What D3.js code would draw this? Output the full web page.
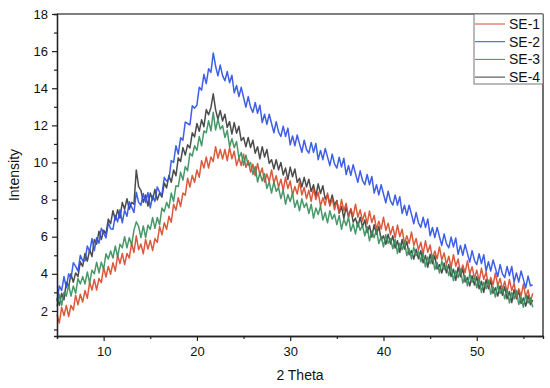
<!DOCTYPE html>
<html>
<head>
<meta charset="utf-8">
<script src="https://cdn.jsdelivr.net/npm/d3@7"></script>
<style>
  body { margin: 0; background: #fff; }
  text { font-family: Arial, "Liberation Sans", sans-serif; }
</style>
</head>
<body>
<script>
const WIDTH = 550
const HEIGHT = 388
const LEFT = 57
const RIGHT = 543
const TOP = 14
const BOTTOM = 336

// 2 Theta grid: 5 to 56, step 0.25
const X_START = 5
const X_STEP = 0.25

const SERIES = ['SE-1', 'SE-2', 'SE-3', 'SE-4']
const COLORS = ['#d94b2c', '#2f52e4', '#3a8f5c', '#3d3d3d']
// drawing order, bottom to top
const DRAW_ORDER = [3, 0, 2, 1]

const SE1 = [
  1.8, 1.35, 2.2, 1.75, 2.3, 1.7, 2.3, 2.05, 2.85, 2.33, 2.9, 2.48,
  3.1, 2.68, 3.55, 3.13, 3.7, 3.13, 3.75, 3.53, 4.35, 3.83, 4.4, 3.98,
  4.6, 4.15, 5.0, 4.55, 5.1, 4.5, 5.1, 4.85, 5.65, 5.15, 6.05, 5.3,
  5.6, 5.08, 5.85, 5.33, 5.8, 5.25, 5.9, 5.7, 6.55, 6.1, 6.75, 6.4,
  7.1, 6.78, 7.75, 7.43, 8.1, 7.63, 8.35, 8.23, 9.15, 8.68, 9.3, 8.93,
  9.6, 9.2, 10.1, 9.7, 10.3, 9.7, 10.3, 10.05, 10.85, 10.23, 10.7, 10.18,
  10.7, 10.1, 10.8, 10.2, 10.6, 9.83, 10.25, 9.83, 10.45, 9.73, 10.1, 9.48,
  9.9, 9.28, 9.95, 9.33, 9.7, 8.94, 9.38, 8.96, 9.6, 8.89, 9.28, 8.66,
  9.1, 8.5, 9.2, 8.6, 9.0, 8.25, 8.7, 8.3, 8.95, 8.25, 8.65, 8.05,
  8.5, 7.9, 8.6, 8.0, 8.4, 7.65, 8.1, 7.7, 8.35, 7.65, 8.05, 7.45,
  7.9, 7.3, 8.0, 7.4, 7.8, 7.05, 7.5, 7.1, 7.75, 7.05, 7.45, 6.85,
  7.3, 6.69, 7.38, 6.76, 7.15, 6.39, 6.83, 6.41, 7.05, 6.34, 6.73, 6.11,
  6.55, 5.94, 6.63, 6.01, 6.4, 5.63, 6.05, 5.63, 6.25, 5.53, 5.9, 5.28,
  5.7, 5.09, 5.78, 5.16, 5.55, 4.79, 5.23, 4.81, 5.45, 4.74, 5.13, 4.51,
  4.95, 4.34, 5.03, 4.41, 4.8, 4.04, 4.48, 4.06, 4.7, 3.99, 4.38, 3.76,
  4.2, 3.6, 4.3, 3.7, 4.1, 3.35, 3.8, 3.4, 4.05, 3.35, 3.75, 3.15,
  3.6, 3.0, 3.7, 3.1, 3.5, 2.75, 3.2, 2.8, 3.45, 2.74, 3.13, 2.51,
  2.95
]

const SE2 = [
  2.5, 3.35, 3.1, 3.85, 3.25, 4.0, 3.75, 4.6, 4.4, 4.15, 5.0, 4.7,
  4.7, 5.5, 5.2, 5.9, 5.25, 5.95, 5.65, 6.45, 6.2, 5.93, 6.75, 6.43,
  6.4, 7.15, 6.8, 7.45, 6.75, 7.43, 7.1, 7.88, 7.6, 7.3, 8.4, 7.85,
  7.7, 8.33, 7.85, 8.38, 7.55, 8.2, 7.9, 8.68, 8.4, 8.25, 9.2, 9.0,
  9.1, 10.1, 10.0, 10.9, 10.45, 11.33, 11.2, 12.18, 12.1, 12.03, 13.05, 12.93,
  13.1, 14.05, 13.9, 14.75, 14.25, 15.05, 14.85, 15.9, 15.2, 14.67, 15.25, 14.68,
  14.4, 14.9, 14.3, 14.7, 13.75, 14.15, 13.55, 14.05, 13.5, 12.98, 13.55, 12.98,
  12.7, 13.23, 12.65, 13.08, 12.15, 12.6, 12.05, 12.6, 12.1, 11.6, 12.2, 11.65,
  11.4, 11.95, 11.4, 11.85, 10.95, 11.43, 10.9, 11.48, 11.0, 10.55, 11.2, 10.7,
  10.5, 11.08, 10.55, 11.03, 10.15, 10.65, 10.15, 10.75, 10.3, 9.83, 10.45, 9.93,
  9.7, 10.28, 9.75, 10.23, 9.35, 9.83, 9.3, 9.88, 9.4, 8.93, 9.55, 9.03,
  8.8, 9.35, 8.8, 9.25, 8.35, 8.8, 8.25, 8.8, 8.3, 7.83, 8.45, 7.93,
  7.7, 8.25, 7.7, 8.15, 7.25, 7.7, 7.15, 7.7, 7.2, 6.7, 7.3, 6.75,
  6.5, 7.05, 6.5, 6.95, 6.05, 6.5, 5.95, 6.5, 6.0, 5.53, 6.15, 5.63,
  5.4, 5.98, 5.45, 5.93, 5.05, 5.53, 5.0, 5.58, 5.1, 4.63, 5.25, 4.73,
  4.5, 5.08, 4.55, 5.03, 4.15, 4.65, 4.15, 4.75, 4.3, 3.85, 4.5, 4.0,
  3.8, 4.4, 3.9, 4.4, 3.55, 4.05, 3.55, 4.15, 3.7, 3.24, 3.88, 3.36,
  3.4
]

const SE3 = [
  2.25, 2.9, 2.3, 3.0, 2.8, 3.4, 2.8, 3.35, 2.95, 3.75, 3.45, 3.85,
  3.45, 4.1, 3.5, 4.2, 4.0, 4.63, 4.05, 4.63, 4.25, 5.08, 4.8, 5.23,
  4.85, 5.5, 4.9, 5.6, 5.4, 6.0, 5.4, 5.95, 5.55, 6.35, 6.8, 6.55,
  5.95, 6.58, 5.95, 6.63, 6.4, 7.03, 6.45, 7.03, 6.65, 7.55, 7.35, 7.85,
  7.55, 8.35, 7.9, 8.75, 8.7, 9.48, 9.05, 9.78, 9.55, 10.5, 10.35, 10.9,
  10.65, 11.4, 10.9, 11.7, 11.6, 12.25, 11.7, 12.7, 11.75, 12.33, 11.8, 11.98,
  11.35, 11.73, 10.85, 11.28, 10.8, 11.13, 10.25, 10.53, 9.85, 10.4, 9.85, 10.0,
  9.35, 9.78, 8.95, 9.43, 9.0, 9.4, 8.6, 8.95, 8.35, 8.95, 8.45, 8.65,
  8.05, 8.53, 7.75, 8.28, 7.9, 8.34, 7.58, 7.96, 7.4, 8.04, 7.58, 7.81,
  7.25, 7.75, 7.0, 7.55, 7.2, 7.65, 6.9, 7.3, 6.75, 7.4, 6.95, 7.2,
  6.65, 7.15, 6.4, 6.95, 6.6, 7.05, 6.3, 6.7, 6.15, 6.8, 6.35, 6.6,
  6.05, 6.54, 5.78, 6.31, 5.95, 6.39, 5.63, 6.01, 5.45, 6.1, 5.65, 5.9,
  5.35, 5.85, 5.1, 5.65, 5.3, 5.74, 4.98, 5.36, 4.8, 5.44, 4.98, 5.21,
  4.65, 5.14, 4.38, 4.91, 4.55, 4.99, 4.23, 4.61, 4.05, 4.69, 4.23, 4.46,
  3.9, 4.39, 3.63, 4.16, 3.8, 4.25, 3.5, 3.9, 3.35, 4.0, 3.55, 3.8,
  3.25, 3.75, 3.0, 3.55, 3.2, 3.65, 2.9, 3.3, 2.75, 3.4, 2.95, 3.2,
  2.65, 3.16, 2.43, 2.99, 2.65, 3.1, 2.35, 2.75, 2.2, 2.86, 2.43, 2.69,
  2.2
]

const SE4 = [
  2.7, 2.3, 2.95, 2.6, 3.55, 3.3, 4.0, 3.55, 4.05, 3.85, 4.65, 4.4,
  5.1, 4.68, 5.3, 4.93, 5.85, 5.6, 6.3, 5.85, 6.35, 6.15, 6.95, 6.7,
  7.4, 6.9, 7.45, 7.0, 7.85, 7.48, 8.05, 7.48, 7.85, 7.75, 9.6, 8.7,
  8.5, 7.85, 8.25, 7.65, 8.35, 7.98, 8.55, 7.98, 8.35, 8.13, 8.9, 8.63,
  9.3, 8.93, 9.6, 9.28, 10.25, 10.05, 10.8, 10.4, 10.95, 10.78, 11.6, 11.38,
  12.1, 11.68, 12.3, 11.93, 12.85, 12.57, 12.95, 13.7, 12.85, 12.33, 12.8, 12.23,
  12.6, 11.88, 12.2, 11.53, 12.15, 11.58, 11.95, 11.18, 11.35, 10.85, 11.35, 10.8,
  11.2, 10.5, 10.85, 10.2, 10.85, 10.3, 10.7, 9.95, 10.15, 9.65, 10.15, 9.6,
  10.0, 9.33, 9.7, 9.08, 9.75, 9.23, 9.65, 8.93, 9.15, 8.68, 9.2, 8.68,
  9.1, 8.43, 8.8, 8.18, 8.85, 8.33, 8.75, 8.03, 8.25, 7.75, 8.25, 7.7,
  7.95, 7.26, 7.63, 6.99, 7.6, 7.08, 7.5, 6.78, 7.0, 6.53, 7.05, 6.53,
  6.9, 6.23, 6.6, 5.98, 6.65, 6.13, 6.55, 5.83, 6.05, 5.59, 6.13, 5.61,
  6.05, 5.39, 5.78, 5.16, 5.85, 5.33, 5.75, 5.03, 5.25, 4.79, 5.33, 4.81,
  5.25, 4.59, 4.98, 4.36, 5.05, 4.54, 4.98, 4.26, 4.5, 4.04, 4.58, 4.06,
  4.5, 3.85, 4.25, 3.65, 4.35, 3.84, 4.28, 3.56, 3.8, 3.35, 3.9, 3.4,
  3.85, 3.2, 3.6, 3.0, 3.7, 3.2, 3.65, 2.95, 3.25, 2.8, 3.35, 2.85,
  3.3, 2.65, 3.05, 2.45, 3.15, 2.65, 3.1, 2.4, 2.7, 2.26, 2.83, 2.34,
  2.6
]

const VALUES = [SE1, SE2, SE3, SE4]

const Y_TICKS = [2, 4, 6, 8, 10, 12, 14, 16, 18]
const Y_MINOR = [1, 3, 5, 7, 9, 11, 13, 15, 17]
const X_TICKS = [10, 20, 30, 40, 50]
const X_MINOR = [5, 15, 25, 35, 45, 55]

const svg = d3.select('body')
    .append('svg')
    .attr('width', WIDTH)
    .attr('height', HEIGHT)

const xScale = d3.scaleLinear()
    .domain([5, 57.1])
    .range([LEFT, RIGHT])

const yScale = d3.scaleLinear()
    .domain([0.65, 18])
    .range([BOTTOM, TOP])

const plot = svg.append('g')

const line = d3.line()
    .x((d, i) => xScale(X_START + i * X_STEP))
    .y(d => yScale(d))

DRAW_ORDER.forEach(k => {
    plot.append('path')
        .datum(VALUES[k])
        .attr('d', line)
        .attr('fill', 'none')
        .attr('stroke', COLORS[k])
        .attr('stroke-width', 1.5)
        .attr('stroke-linejoin', 'round')
        .attr('opacity', 0.92)
})

// frame
svg.append('line')
    .attr('x1', LEFT).attr('x2', RIGHT)
    .attr('y1', TOP).attr('y2', TOP)
    .attr('stroke', '#555').attr('stroke-width', 1.3)
svg.append('line')
    .attr('x1', RIGHT).attr('x2', RIGHT)
    .attr('y1', TOP).attr('y2', BOTTOM)
    .attr('stroke', '#222').attr('stroke-width', 1.3)

// axes
const styleAxis = g => {
    g.select('.domain').attr('stroke', '#222').attr('stroke-width', 1.3)
    g.selectAll('.tick line').attr('stroke', '#222').attr('stroke-width', 1.2)
    g.selectAll('.tick text')
        .attr('font-size', 13)
        .attr('fill', '#111')
        .attr('font-family', 'Arial, "Liberation Sans", sans-serif')
}

svg.append('g')
    .attr('transform', `translate(0, ${BOTTOM})`)
    .call(d3.axisBottom(xScale).tickValues(X_MINOR).tickSize(3).tickFormat(''))
    .call(styleAxis)

svg.append('g')
    .attr('transform', `translate(0, ${BOTTOM})`)
    .call(d3.axisBottom(xScale).tickValues(X_TICKS).tickSize(5).tickPadding(6).tickSizeOuter(0))
    .call(styleAxis)

svg.append('g')
    .attr('transform', `translate(${LEFT}, 0)`)
    .call(d3.axisLeft(yScale).tickValues(Y_MINOR).tickSize(3).tickFormat(''))
    .call(styleAxis)

svg.append('g')
    .attr('transform', `translate(${LEFT}, 0)`)
    .call(d3.axisLeft(yScale).tickValues(Y_TICKS).tickSize(5).tickPadding(4).tickSizeOuter(0))
    .call(styleAxis)

// axis titles
svg.append('text')
    .text('2 Theta')
    .attr('x', (LEFT + RIGHT) / 2)
    .attr('y', 380)
    .attr('text-anchor', 'middle')
    .attr('font-size', 14)
    .attr('fill', '#111')

svg.append('text')
    .text('Intensity')
    .attr('transform', `translate(19, ${(TOP + BOTTOM) / 2}) rotate(-90)`)
    .attr('text-anchor', 'middle')
    .attr('font-size', 14)
    .attr('fill', '#111')

// legend
const legend = svg.append('g')
    .attr('transform', `translate(474, ${TOP})`)

legend.append('rect')
    .attr('width', RIGHT - 474)
    .attr('height', 70)
    .attr('fill', '#fff')
    .attr('stroke', '#777')
    .attr('stroke-width', 1)

SERIES.forEach((name, k) => {
    const y = 10 + k * 17.7
    legend.append('line')
        .attr('x1', 1).attr('x2', 31)
        .attr('y1', y).attr('y2', y)
        .attr('stroke', COLORS[k])
        .attr('stroke-width', 1)
    legend.append('text')
        .text(name)
        .attr('x', 35)
        .attr('y', y + 5)
        .attr('font-size', 14)
        .attr('fill', '#111')
})
</script>
</body>
</html>
